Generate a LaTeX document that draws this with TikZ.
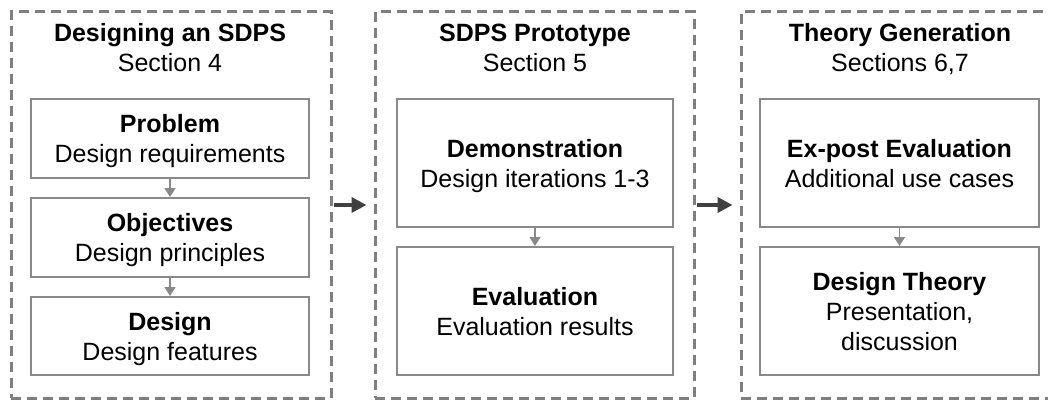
\documentclass[tikz,border=0pt]{standalone}
\usepackage{fontspec}
\setmainfont{Liberation Sans}
\usetikzlibrary{arrows.meta}
\definecolor{dashgray}{HTML}{7F7F7F}
\definecolor{boxgray}{HTML}{898989}
\definecolor{arrowdark}{HTML}{404040}
\begin{document}
\begin{tikzpicture}[x=1pt,y=-1pt,
  font=\fontsize{25}{30}\selectfont,
  group/.style={draw=dashgray, line width=3pt, dash pattern=on 10pt off 6pt,
    minimum width=#1, minimum height=386pt, inner sep=0pt},
  stepbox/.style={draw=boxgray, line width=2pt, align=center, inner sep=0pt,
    text depth=0pt, minimum width=278pt},
  title/.style={font=\fontsize{25}{30}\selectfont\bfseries, anchor=base},
  sub/.style={anchor=base},
  smallarrow/.style={draw=boxgray, line width=1.5pt, -{Triangle[length=9pt,width=11pt]}},
  bigarrow/.style={draw=arrowdark, line width=4.5pt, -{Triangle[length=15pt,width=15pt]},
    shorten <=1pt, shorten >=7pt}
]
\useasboundingbox (0,0) rectangle (1048,401);
\clip (0,0) rectangle (1048,401);
\fill[white] (0,0) rectangle (1048,401);

% groups
\node[group=320pt] (g1) at (171,205) {};
\node[group=319pt] (g2) at (534.5,205) {};
\node[group=318pt] (g3) at (900,205) {};

% titles
\node[title] (t1) at (170,42) {Designing an SDPS};
\node[sub] (s1) at (170,72) {Section 4};
\node[title] (t2) at (535,42) {SDPS Prototype};
\node[sub] (s2) at (535,72) {Section 5};
\node[title] (t3) at (900,42) {Theory Generation};
\node[sub] (s3) at (900,72) {Sections 6,7};

% group 1
\node[stepbox, minimum height=79pt] (prob) at (170,138.5) {\textbf{Problem}\\Design requirements};
\node[stepbox, minimum height=79pt] (obj) at (170,237.5) {\textbf{Objectives}\\Design principles};
\node[stepbox, minimum height=78pt] (des) at (170,336) {\textbf{Design}\\Design features};

% group 2
\node[stepbox, minimum width=276pt, minimum height=128pt] (demo) at (535,163) {\textbf{Demonstration}\\Design iterations 1-3};
\node[stepbox, minimum width=276pt, minimum height=128pt] (eval) at (535,311) {\textbf{Evaluation}\\Evaluation results};

% group 3
\node[stepbox, minimum width=279pt, minimum height=128pt] (expost) at (899.5,163) {\textbf{Ex-post Evaluation}\\Additional use cases};
\node[stepbox, minimum width=279pt, minimum height=128pt] (theory) at (899.5,311) {\textbf{Design Theory}\\Presentation,\\discussion};

% connectors
\draw[smallarrow] (prob) -- (obj);
\draw[smallarrow] (obj) -- (des);
\draw[smallarrow] (demo) -- (eval);
\draw[smallarrow] (expost) -- (theory);
\draw[bigarrow] (g1) -- (g2);
\draw[bigarrow] (g2) -- (g3);
\end{tikzpicture}
\end{document}
